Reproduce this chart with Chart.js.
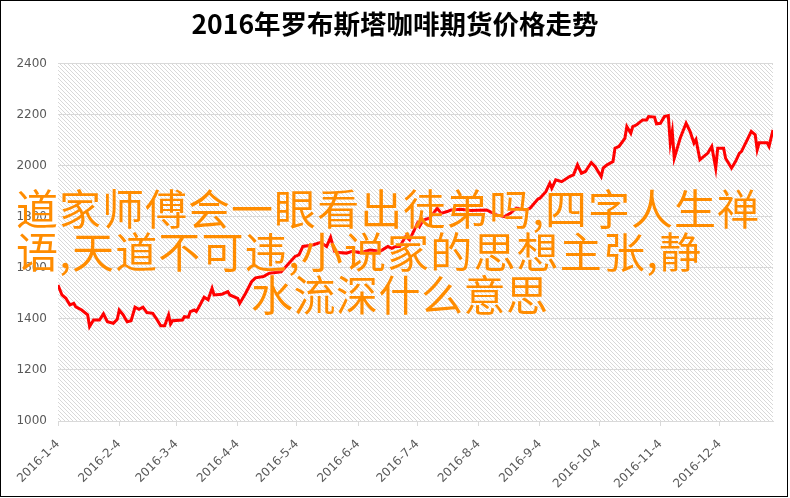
<!DOCTYPE html>
<html>
<head>
<meta charset="utf-8">
<script src="https://cdn.jsdelivr.net/npm/chart.js@4"></script>
<style>
    body { margin: 0; background: #fff; }
    #wrap { position: absolute; left: 0; top: 0; width: 790px; height: 498px; }
    #frame { position: absolute; left: 0; top: 0; width: 788px; height: 497px; border: 1px solid #000; box-sizing: border-box; pointer-events: none; }
    .overlay { position: absolute; color: #ff8c00; font-family: "Noto Sans CJK SC", sans-serif; font-size: 42px; line-height: 1; white-space: nowrap; text-align: justify; text-align-last: justify; text-justify: inter-character; text-shadow: 0 0 2px rgba(255, 255, 255, 0.6); }
</style>
</head>
<body>
<div id="wrap"><canvas id="chart" width="790" height="498"></canvas></div>
<div id="frame"></div>
<div class="overlay" id="line1"></div>
<div class="overlay" id="line2"></div>
<div class="overlay" id="line3"></div>
<script>
// Chart data
const chartTitle = '2016年罗布斯塔咖啡期货价格走势';

// days counted from 2016-1-4
const days = [
    0, 2, 4, 6, 8, 9, 12, 15, 16, 18, 21, 23, 25, 28, 30, 31, 33, 35, 37, 39,
    41, 43, 45, 48, 50, 52, 54, 56, 57, 58, 63, 64, 66, 67, 69, 70, 71, 74, 76, 78,
    79, 83, 86, 87, 91, 92, 95, 98, 100, 104, 107, 113, 116, 120, 122, 124, 129, 133, 136, 138,
    140, 142, 146, 149, 153, 158, 163, 167, 169, 171, 173, 176, 178, 180, 182, 183, 185, 188, 190, 192,
    194, 197, 199, 204, 209, 217, 222, 226, 229, 232, 237, 239, 243, 244, 247, 249, 250, 252, 255, 259,
    261, 263, 265, 267, 270, 272, 275, 276, 278, 281, 282, 284, 287, 288, 290, 291, 293, 296, 298, 299,
    302, 303, 305, 307, 309, 310, 311, 312, 315, 318, 320, 322, 323, 325, 329, 331, 333, 334, 337, 338,
    341, 343, 345, 346, 349, 351, 353, 354, 355, 359, 360, 362
];
const prices = [
    1533, 1494, 1481, 1455, 1461, 1447, 1435, 1416, 1370, 1396, 1396, 1420, 1389, 1383, 1399, 1435, 1416, 1389, 1393, 1446,
    1438, 1446, 1425, 1422, 1399, 1373, 1373, 1416, 1380, 1393, 1396, 1409, 1407, 1429, 1435, 1429, 1442, 1485, 1475, 1520,
    1494, 1497, 1507, 1494, 1481, 1461, 1501, 1546, 1561, 1566, 1579, 1585, 1610, 1645, 1651, 1684, 1690, 1700, 1684, 1720,
    1665, 1660, 1658, 1665, 1660, 1670, 1665, 1684, 1677, 1684, 1684, 1723, 1710, 1742, 1775, 1762, 1788, 1795, 1814, 1834,
    1814, 1821, 1827, 1830, 1825, 1827, 1808, 1801, 1814, 1834, 1827, 1834, 1870, 1873, 1899, 1932, 1912, 1945, 1938, 1958,
    1965, 2004, 1971, 1978, 2013, 1997, 1958, 1991, 2004, 2017, 2069, 2076, 2108, 2154, 2128, 2154, 2161, 2180, 2180, 2193,
    2191, 2165, 2167, 2193, 2197, 2089, 2135, 2030, 2108, 2167, 2135, 2089, 2103, 2024, 2050, 2076, 1991, 2069, 2069, 2030,
    1991, 2017, 2050, 2056, 2103, 2135, 2122, 2063, 2091, 2091, 2076, 2141
];

const tickDays = [0, 31, 60, 91, 121, 152, 182, 213, 244, 274, 305, 335];
const tickLabels = ['2016-1-4', '2016-2-4', '2016-3-4', '2016-4-4', '2016-5-4', '2016-6-4',
    '2016-7-4', '2016-8-4', '2016-9-4', '2016-10-4', '2016-11-4', '2016-12-4'];

const overlayLines = ['道家师傅会一眼看出徒弟吗,四字人生禅', '语,天道不可违,小说家的思想主张,静', '水流深什么意思'];

// Overlay text, each line stretched over its width
function setOverlay(id, text, left, top, width) {
    const el = document.getElementById(id);
    el.textContent = text;
    el.style.left = left + 'px';
    el.style.top = top + 'px';
    el.style.width = width + 'px';
}
setOverlay('line1', overlayLines[0], 16, 186, 743);
setOverlay('line2', overlayLines[1], 16, 229, 685);
setOverlay('line3', overlayLines[2], 251, 272, 297);

// Hatched plot background
function makeHatch() {
    const c = document.createElement('canvas');
    c.width = 4;
    c.height = 4;
    const g = c.getContext('2d');
    g.fillStyle = '#ffffff';
    g.fillRect(0, 0, 4, 4);
    g.fillStyle = '#d8d8d8';
    for (let i = 0; i < 4; i++) {
        g.fillRect(i, i, 1, 1);
    }
    return c;
}

const hatchPlugin = {
    id: 'hatch',
    beforeDraw(chart) {
        const area = chart.chartArea;
        const ctx = chart.ctx;
        ctx.save();
        ctx.fillStyle = ctx.createPattern(makeHatch(), 'repeat');
        ctx.fillRect(area.left, area.top, area.right - area.left, area.bottom - area.top);
        ctx.restore();
    }
};

const tickFont = { family: 'DejaVu Sans', size: 12 };

new Chart(document.getElementById('chart'), {
    type: 'line',
    data: {
        datasets: [{
            data: days.map((d, i) => ({ x: d, y: prices[i] })),
            borderColor: '#ff0000',
            borderWidth: 3,
            pointRadius: 0,
            tension: 0,
            fill: false
        }]
    },
    options: {
        responsive: false,
        animation: false,
        devicePixelRatio: 1,
        layout: { padding: { left: 17, right: 17, top: 0, bottom: 0 } },
        plugins: {
            legend: { display: false },
            tooltip: { enabled: false },
            title: {
                display: true,
                text: chartTitle,
                color: '#000000',
                font: { family: 'Noto Sans CJK SC', size: 26.5, weight: 'bold' },
                padding: { top: 8, bottom: 24 }
            }
        },
        scales: {
            x: {
                type: 'linear',
                min: 0,
                max: 362,
                afterBuildTicks: scale => {
                    scale.ticks = tickDays.map(v => ({ value: v }));
                },
                afterFit: scale => {
                    scale.height = 77;
                },
                grid: { drawOnChartArea: false, drawTicks: true, tickLength: 5, color: '#d9d9d9' },
                border: { display: true, color: '#d9d9d9', width: 1 },
                ticks: {
                    autoSkip: false,
                    minRotation: 45,
                    maxRotation: 45,
                    padding: 11,
                    color: '#595959',
                    font: tickFont,
                    callback: value => tickLabels[tickDays.indexOf(value)]
                }
            },
            y: {
                min: 1000,
                max: 2400,
                afterFit: scale => {
                    scale.width = 41;
                },
                grid: { drawTicks: false, color: '#d9d9d9' },
                border: { display: false },
                ticks: {
                    stepSize: 200,
                    padding: 11,
                    color: '#595959',
                    font: tickFont,
                    callback: value => String(value)
                }
            }
        }
    },
    plugins: [hatchPlugin]
});
</script>
</body>
</html>
